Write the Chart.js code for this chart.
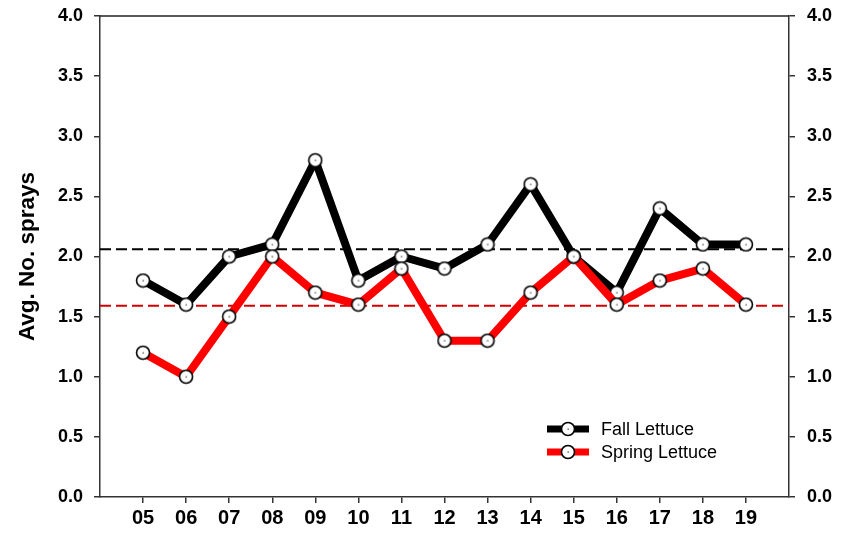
<!DOCTYPE html>
<html>
<head>
<meta charset="utf-8">
<script src="https://cdn.jsdelivr.net/npm/chart.js@4/dist/chart.umd.min.js"></script>
<style>
  html, body { margin: 0; padding: 0; background: #fff; }
  #wrap { width: 854px; height: 535px; }
</style>
</head>
<body>
<div id="wrap"><canvas id="sprayChart"></canvas></div>
<script>
const years = [5, 6, 7, 8, 9, 10, 11, 12, 13, 14, 15, 16, 17, 18, 19];
const fallLettuce = [1.8, 1.6, 2.0, 2.1, 2.8, 1.8, 2.0, 1.9, 2.1, 2.6, 2.0, 1.7, 2.4, 2.1, 2.1];
const springLettuce = [1.2, 1.0, 1.5, 2.0, 1.7, 1.6, 1.9, 1.3, 1.3, 1.7, 2.0, 1.6, 1.8, 1.9, 1.6];
const fallMean = 2.06;
const springMean = 1.59;
const yTicks = [0, 0.5, 1.0, 1.5, 2.0, 2.5, 3.0, 3.5, 4.0];
const xRange = [4, 20];

const FONT = "'Liberation Sans', Arial, Helvetica, sans-serif";

// white circle marker with a tiny dot in the middle
function makeMarker() {
    const c = document.createElement('canvas');
    c.width = 16; c.height = 16;
    const g = c.getContext('2d');
    g.beginPath();
    g.arc(8, 8, 6.5, 0, Math.PI * 2);
    g.fillStyle = '#fff';
    g.fill();
    g.lineWidth = 1.6;
    g.strokeStyle = '#000';
    g.stroke();
    g.fillStyle = '#444';
    g.fillRect(7.5, 7.5, 1.3, 1.3);
    return c;
}
const marker = makeMarker();

const toPoints = vals => vals.map((v, i) => ({ x: years[i], y: v }));
const meanLine = m => [{ x: xRange[0], y: m }, { x: xRange[1], y: m }];

const frame = {
    id: 'frame',
    afterDraw(chart) {
        const { ctx, chartArea: a } = chart;
        ctx.save();
        ctx.strokeStyle = '#222';
        ctx.lineWidth = 1.5;
        ctx.beginPath();
        ctx.moveTo(a.left, a.top);
        ctx.lineTo(a.right, a.top);
        ctx.stroke();

        // legend, bottom right inside the plot
        const items = [
            { label: 'Fall Lettuce', color: '#000' },
            { label: 'Spring Lettuce', color: '#ff0000' }
        ];
        items.forEach((it, i) => {
            const y = a.bottom - 68 + i * 23;
            const x0 = a.right - 242, x1 = a.right - 200;
            ctx.strokeStyle = it.color;
            ctx.lineWidth = 7;
            ctx.beginPath();
            ctx.moveTo(x0, y);
            ctx.lineTo(x1, y);
            ctx.stroke();
            ctx.drawImage(marker, (x0 + x1) / 2 - 8, y - 8);
            ctx.fillStyle = '#000';
            ctx.font = '18px ' + FONT;
            ctx.textAlign = 'left';
            ctx.textBaseline = 'middle';
            ctx.fillText(it.label, a.right - 188, y + 1);
        });
        ctx.restore();
    }
};

const yTickOpts = {
    font: { family: FONT, size: 18, weight: 'bold' },
    color: '#000',
    callback: v => v.toFixed(1)
};

const fitY = w => s => { s.width = w; s.paddingTop = 0; s.paddingBottom = 0; };

new Chart(document.getElementById('sprayChart'), {
    type: 'line',
    data: {
        datasets: [
            {
                label: 'Spring Lettuce',
                data: toPoints(springLettuce),
                borderColor: '#ff0000',
                borderWidth: 8,
                borderJoinStyle: 'round',
                pointStyle: marker,
                order: 1
            },
            {
                label: 'Fall Lettuce',
                data: toPoints(fallLettuce),
                borderColor: '#000',
                borderWidth: 8,
                borderJoinStyle: 'round',
                pointStyle: marker,
                order: 2
            },
            {
                label: 'Fall mean',
                data: meanLine(fallMean),
                borderColor: '#000',
                borderWidth: 2,
                borderDash: [11, 5],
                pointRadius: 0,
                order: 3
            },
            {
                label: 'Spring mean',
                data: meanLine(springMean),
                borderColor: '#d40000',
                borderWidth: 2,
                borderDash: [11, 5],
                pointRadius: 0,
                order: 4
            }
        ]
    },
    options: {
        responsive: true,
        maintainAspectRatio: false,
        animation: false,
        events: [],
        layout: { padding: { top: 16, left: 0, right: 0, bottom: 0 } },
        plugins: { legend: { display: false }, tooltip: { enabled: false } },
        scales: {
            x: {
                type: 'linear',
                min: xRange[0],
                max: xRange[1],
                afterBuildTicks: s => { s.ticks = years.map(v => ({ value: v })); },
                afterFit: s => { s.height = 38; s.paddingLeft = 0; s.paddingRight = 0; },
                grid: { drawOnChartArea: false, drawTicks: true, tickLength: 6, color: '#333', lineWidth: 1.5 },
                border: { display: true, color: '#333', width: 1.5 },
                ticks: {
                    font: { family: FONT, size: 20, weight: 'bold' },
                    color: '#000',
                    padding: 3,
                    maxRotation: 0,
                    autoSkip: false,
                    callback: v => String(v).padStart(2, '0')
                }
            },
            y: {
                position: 'left',
                min: 0,
                max: 4,
                afterBuildTicks: s => { s.ticks = yTicks.map(v => ({ value: v })); },
                afterFit: fitY(100),
                grid: { drawOnChartArea: false, drawTicks: true, tickLength: 6, color: '#333', lineWidth: 1.5 },
                border: { display: true, color: '#333', width: 1.5 },
                ticks: Object.assign({ padding: 11 }, yTickOpts),
                title: {
                    display: true,
                    text: 'Avg. No. sprays',
                    color: '#000',
                    font: { family: FONT, size: 22.5, weight: 'bold' },
                    padding: { top: 14, bottom: 0 }
                }
            },
            y2: {
                position: 'right',
                min: 0,
                max: 4,
                afterBuildTicks: s => { s.ticks = yTicks.map(v => ({ value: v })); },
                afterFit: fitY(65),
                grid: { drawOnChartArea: false, drawTicks: true, tickLength: 6, color: '#333', lineWidth: 1.5 },
                border: { display: true, color: '#333', width: 1.5 },
                ticks: Object.assign({ padding: 12 }, yTickOpts)
            }
        }
    },
    plugins: [frame]
});
</script>
</body>
</html>
